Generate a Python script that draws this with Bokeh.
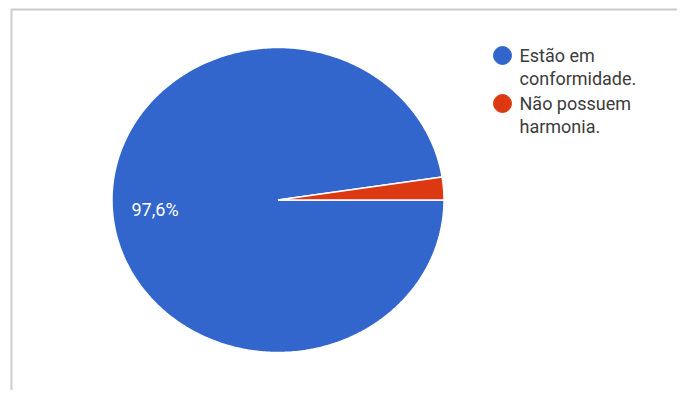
import numpy as np
from bokeh.plotting import figure
from bokeh.models import Range1d
from bokeh.core.properties import value
from bokeh.embed import file_html
from bokeh.resources import INLINE

# ---- data ----
categories = ["Estão em\nconformidade.", "Não possuem\nharmonia."]
values = [97.6, 2.4]
colors = ["#3366cc", "#dc3912"]
pct_labels = ["97,6%", ""]

W, H = 677, 390
p = figure(width=W, height=H, output_backend="svg", toolbar_location=None,
           x_range=Range1d(0, W), y_range=Range1d(0, H),
           min_border=0)
p.axis.visible = False
p.grid.visible = False
p.outline_line_color = None
p.background_fill_color = "white"
p.border_fill_color = "white"

def Y(py):
    return H - py

# frame lines (cropped card border)
p.line([11, 11, 700], [Y(410), Y(9), Y(9)], line_color="#cccccc", line_width=2)

# ---- elliptical pie ----
cx, cy = 277.5, Y(199.5)
rx, ry = 166, 152.5
total = sum(values)
start = values[1] / total * 2 * np.pi
xs, ys = [], []
a0 = start
for v in values:
    a1 = a0 + v / total * 2 * np.pi
    t = np.linspace(a0, a1, max(int(abs(a1 - a0) * 80), 8))
    xs.append([cx] + list(cx + rx * np.cos(t)) + [cx])
    ys.append([cy] + list(cy + ry * np.sin(t)) + [cy])
    a0 = a1
p.patches(xs, ys, fill_color=colors, line_color="white", line_width=1.5)

# slice label
p.text([131], [Y(208.5)], text=[pct_labels[0]], text_color="white",
       text_font=value("Roboto"), text_font_size="18px",
       text_baseline="middle", text_align="left")

# ---- legend ----
leg_y0 = 55
line_h = 23
row = 0
lx, ly, lt = [], [], []
for i, lab in enumerate(categories):
    lines = lab.split("\n")
    p.scatter([502], [Y(leg_y0 + row * line_h + 2 * i)], size=18, marker="circle",
              fill_color=colors[i], line_color=colors[i])
    for ln in lines:
        lx.append(519)
        ly.append(Y(leg_y0 + row * line_h + 2 * i))
        lt.append(ln)
        row += 1
p.text(lx, ly, text=lt, text_color="#3c3c3c", text_font=value("Roboto"),
       text_font_size="18px", text_baseline="middle", text_align="left")

open("out.html", "w").write(file_html(p, INLINE))
